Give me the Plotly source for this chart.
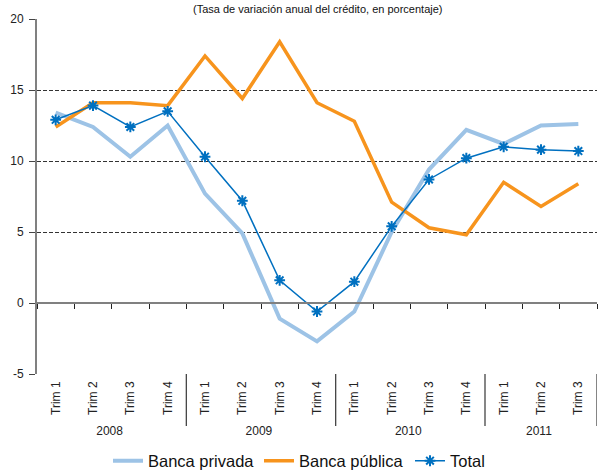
import plotly.graph_objects as go

years = ["2008"] * 4 + ["2009"] * 4 + ["2010"] * 4 + ["2011"] * 3
trims = ["Trim 1", "Trim 2", "Trim 3", "Trim 4"] * 3 + ["Trim 1", "Trim 2", "Trim 3"]

banca_privada = [13.4, 12.4, 10.3, 12.5, 7.7, 4.9, -1.1, -2.7, -0.6, 5.0, 9.4, 12.2, 11.2, 12.5, 12.6]
banca_publica = [12.4, 14.1, 14.1, 13.9, 17.4, 14.4, 18.4, 14.1, 12.8, 7.1, 5.3, 4.8, 8.5, 6.8, 8.4]
total = [12.9, 13.9, 12.4, 13.5, 10.3, 7.2, 1.6, -0.6, 1.5, 5.4, 8.7, 10.2, 11.0, 10.8, 10.7]

y_ticks = [-5, 0, 5, 10, 15, 20]
title_text = "(Tasa de variación anual del crédito, en porcentaje)"

FONT = "Liberation Sans, Arial, sans-serif"
W, H = 598, 471
M_L, M_R, M_T, M_B = 37, 1, 19, 97
plot_h = H - M_T - M_B

fig = go.Figure()
fig.add_trace(go.Scatter(x=[years, trims], y=banca_privada, name="Banca privada", mode="lines",
                         line=dict(color="#9DC3E6", width=4)))
fig.add_trace(go.Scatter(x=[years, trims], y=banca_publica, name="Banca pública", mode="lines",
                         line=dict(color="#F7941D", width=3.5)))
fig.add_trace(go.Scatter(x=[years, trims], y=total, name="Total", mode="lines+markers",
                         line=dict(color="#0070C0", width=1.5),
                         marker=dict(symbol="asterisk-open", size=9, color="#0070C0",
                                     line=dict(color="#0070C0", width=2))))
# helper linear axis aligned with the category slots: carries the zero line and its boundary ticks
n = len(trims)
fig.add_trace(go.Scatter(x=[0, n], y=[None, None], xaxis="x2", showlegend=False,
                         hoverinfo="skip", mode="lines"))

# group boundaries (year dividers) derived from the year list
bounds = [0]
for i in range(1, n):
    if years[i] != years[i - 1]:
        bounds.append(i)
bounds.append(n)
div_len = (426 - (H - M_B)) / plot_h
shapes = [dict(type="line", xref="x2", yref="paper", x0=b, x1=b, y0=0, y1=-div_len,
               line=dict(color="#444", width=1.3)) for b in bounds[1:]]

fig.update_layout(
    width=W, height=H,
    margin=dict(l=M_L, r=M_R, t=M_T, b=M_B),
    paper_bgcolor="white", plot_bgcolor="white",
    font=dict(family=FONT, size=12, color="#222"),
    showlegend=True,
    legend=dict(orientation="h", xref="container", yref="container",
                x=108 / W, xanchor="left", y=1 - 461 / H, yanchor="middle",
                font=dict(size=16.5, color="#111"), itemwidth=30, traceorder="normal",
                entrywidth=106, bgcolor="rgba(0,0,0,0)"),
    xaxis=dict(type="multicategory", range=[-0.5, n - 0.5], showgrid=False, showline=False,
               ticks="", tickangle=-90, tickfont=dict(size=12, color="#222"),
               ticklabelstandoff=4, showdividers=False, zeroline=False, automargin=False),
    xaxis2=dict(overlaying="x", anchor="free", position=5 / 25, range=[0, n],
                tickvals=list(range(n + 1)), showticklabels=False,
                ticks="outside", ticklen=5, tickcolor="#222", tickwidth=1.2,
                showline=True, linecolor="#808080", linewidth=2, showgrid=False,
                zeroline=False, side="bottom", automargin=False),
    yaxis=dict(range=[-5, 20], tickvals=y_ticks, ticktext=[str(v) for v in y_ticks],
               showgrid=True, gridcolor="#333",
               griddash="4px,2px", gridwidth=1, zeroline=False,
               showline=True, linecolor="#808080", linewidth=2,
               ticks="outside", ticklen=6, tickcolor="#444", ticklabelstandoff=3,
               tickfont=dict(size=12, color="#222"), automargin=False),
    shapes=shapes,
    annotations=[dict(text=title_text, x=0.5, xref="paper", y=1 + (M_T - 1) / plot_h,
                      yref="paper", yanchor="top", showarrow=False,
                      font=dict(size=11, color="#111"))],
)

fig.write_html("out.html", config={"displayModeBar": False},
               post_script="document.body.style.margin='0';")
